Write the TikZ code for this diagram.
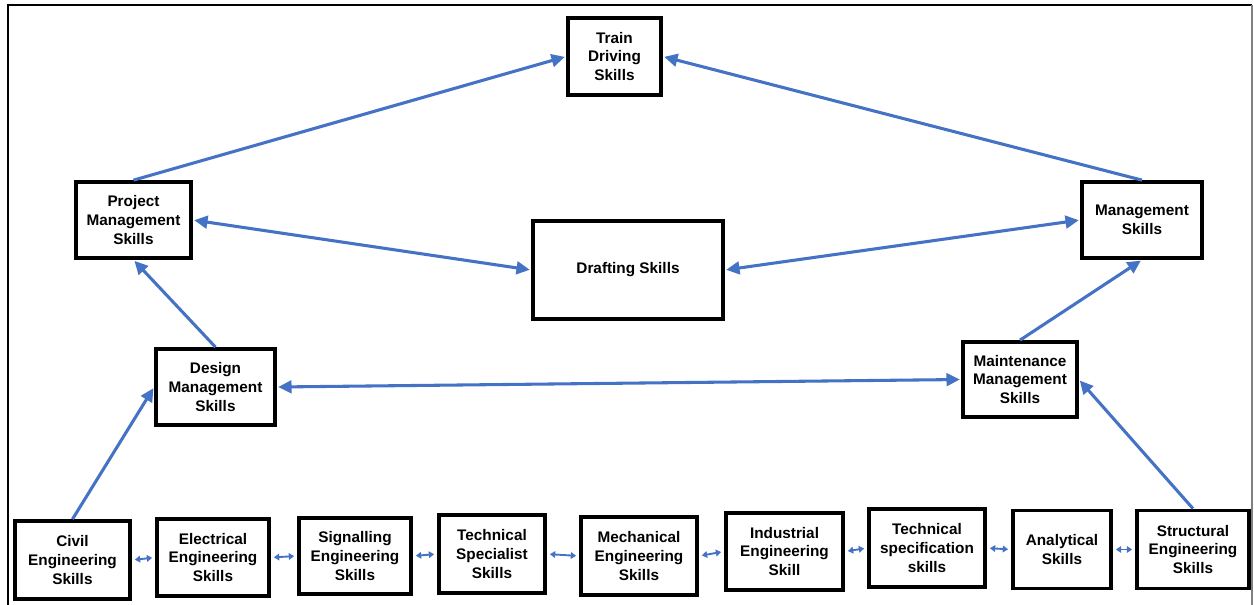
\documentclass[tikz,border=0pt]{standalone}
\usepackage{fontspec}
\setmainfont{Liberation Sans}
\usepackage{tikz}
\usetikzlibrary{arrows.meta}

\definecolor{linkblue}{RGB}{68,114,196}

\begin{document}
\begin{tikzpicture}[x=0.75pt,y=0.75pt,yscale=-1,xscale=1,
  skillbox/.style={draw=black,line width=2.8pt,fill=white,align=center,inner sep=0.75pt,font=\bfseries\fontsize{11.5}{14}\selectfont},
  link/.style={draw=linkblue,line width=2.3pt,-{Triangle[length=10pt,width=9.5pt]},shorten >=1pt},
  twoway/.style={link,{Triangle[length=10pt,width=9.5pt]}-{Triangle[length=10pt,width=9.5pt]},shorten <=1pt},
  minilink/.style={draw=linkblue,line width=1.4pt,{Triangle[length=4pt,width=5pt]}-{Triangle[length=4pt,width=5pt]},shorten >=2.25pt,shorten <=2.25pt}]
\useasboundingbox (0,0) rectangle (1254,604);

%Frame
\draw [line width=2pt] (8,608) -- (8,5) -- (1252,5) ;
\draw [color=gray, line width=0.8pt] (1252,5) -- (1252,608) ;

% Upper boxes
\node [skillbox,minimum width=69.75pt,minimum height=57.75pt] (td) at (614.5,56.5) {Train\\Driving\\Skills};
\node [skillbox,minimum width=86.25pt,minimum height=57pt] (pm) at (133.5,220) {Project\\Management\\Skills};
\node [skillbox,minimum width=142.5pt,minimum height=73.5pt] (df) at (628,270) {Drafting Skills};
\node [skillbox,minimum width=90pt,minimum height=57pt] (mg) at (1142,220) {Management\\Skills};
\node [skillbox,minimum width=89.25pt,minimum height=57pt] (dm) at (215.5,387) {Design\\Management\\Skills};
\node [skillbox,minimum width=85.5pt,minimum height=56.25pt] (mm) at (1020,379.5) {Maintenance\\Management\\Skills};

% Bottom row
\node [skillbox,minimum width=86.25pt,minimum height=58.5pt] (civ) at (72.5,560) {Civil\\Engineering\\Skills};
\node [skillbox,minimum width=84pt,minimum height=57.75pt] (ele) at (213,557.5) {Electrical\\Engineering\\Skills};
\node [skillbox,minimum width=84pt,minimum height=57pt] (sig) at (355,556) {Signalling\\Engineering\\Skills};
\node [skillbox,minimum width=79.5pt,minimum height=58.5pt] (tsp) at (492,554) {Technical\\Specialist\\Skills};
\node [skillbox,minimum width=87pt,minimum height=58.5pt] (mec) at (639,556) {Mechanical\\Engineering\\Skills};
\node [skillbox,minimum width=87.75pt,minimum height=57.75pt] (ind) at (784.5,551.5) {Industrial\\Engineering\\Skill};
\node [skillbox,minimum width=87pt,minimum height=58.5pt] (tsc) at (927,548) {Technical\\specification\\skills};
\node [skillbox,minimum width=73.5pt,minimum height=58.5pt] (ana) at (1062,549.5) {Analytical\\Skills};
\node [skillbox,minimum width=84pt,minimum height=58.5pt] (str) at (1193,549.5) {Structural\\Engineering\\Skills};

%Straight Lines
\draw [link] (pm.north) -- (td.west) ;
\draw [link] (mg.north) -- (td.east) ;
\draw [twoway] (pm.east) -- (df.west) ;
\draw [twoway] (df.east) -- (mg.west) ;
\draw [link] (dm.north) -- (pm.south) ;
\draw [twoway] (dm.east) -- (mm.west) ;
\draw [link] (mm.north) -- (mg.south) ;
\draw [link] (civ.north) -- (dm.west) ;
\draw [link] (str.north) -- (mm.east) ;

%Small links along the bottom row
\draw [minilink] (civ.east) -- (ele.west) ;
\draw [minilink] (ele.east) -- (sig.west) ;
\draw [minilink] (sig.east) -- (tsp.west) ;
\draw [minilink] (tsp.east) -- (mec.west) ;
\draw [minilink] (mec.east) -- (ind.west) ;
\draw [minilink] (ind.east) -- (tsc.west) ;
\draw [minilink] (tsc.east) -- (ana.west) ;
\draw [minilink] (ana.east) -- (str.west) ;

\end{tikzpicture}
\end{document}
